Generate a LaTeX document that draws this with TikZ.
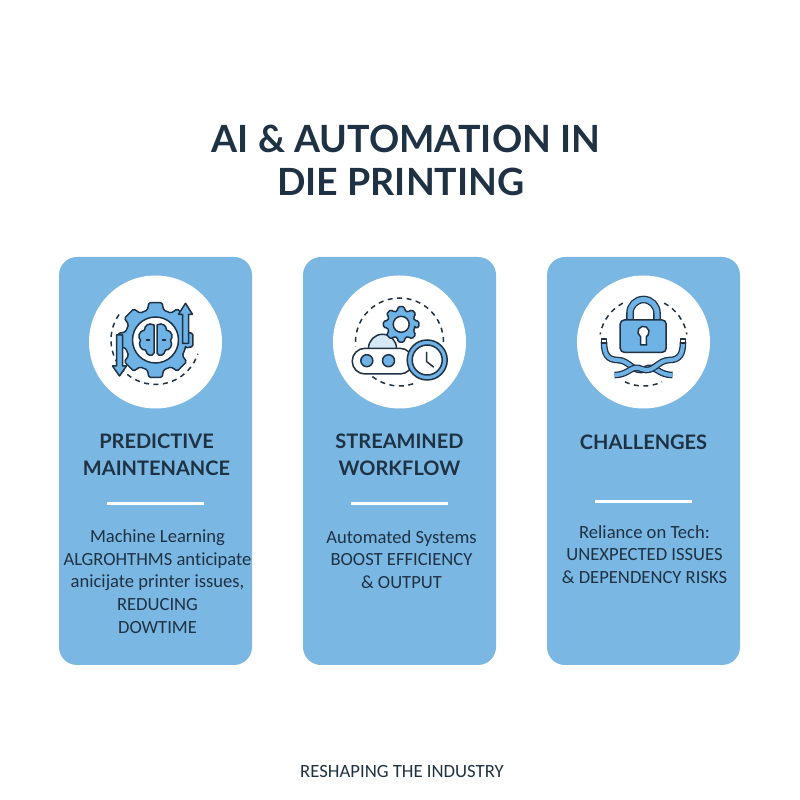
\documentclass[tikz,border=0pt]{standalone}
\usepackage{fontspec}
\setmainfont[Ligatures=NoCommon]{Carlito}
\newfontfamily\titlefont{Lato}
\usetikzlibrary{shapes}

\definecolor{inkdark}{HTML}{1F3244}
\definecolor{cardblue}{HTML}{7AB8E3}
\definecolor{iconblue}{HTML}{6FB3E6}
\definecolor{iconpale}{HTML}{D5E8F6}

\newcommand{\cogwheel}[3]{% centre, root radius, tip radius
	\draw[iconline,fill=iconblue,rounded corners=1.5pt,shift={(#1)}] (-15:#2)
	\foreach \a in {0,45,...,315} { -- (\a-15:#2) -- (\a-10:#3) -- (\a+10:#3) -- (\a+15:#2) } -- cycle;
}

\begin{document}
\begin{tikzpicture}[x=1pt,y=1pt,
		card/.style={fill=cardblue,rounded corners=18pt,minimum width=193pt,minimum height=408pt,inner sep=0pt},
		badge/.style={circle,fill=white,minimum size=133pt,inner sep=0pt},
		heading/.style={align=center,text=inkdark,font=\titlefont\bfseries\fontsize{20}{26.5}\selectfont,inner sep=0pt},
		divider/.style={fill=white,minimum width=97pt,minimum height=3pt,inner sep=0pt},
		bodytext/.style={align=center,text=inkdark,font=\fontsize{18.6}{22.8}\selectfont,inner sep=0pt},
		iconline/.style={draw=inkdark,line width=1.5pt,line join=round},
		dashring/.style={draw=inkdark,line width=1.5pt,dash pattern=on 5pt off 4.5pt},
		cable/.style={draw=inkdark,line width=1.3pt,double=iconblue,double distance=4pt}]
		
		\useasboundingbox (0,0) rectangle (800,800);
		
		\node[align=center,text=inkdark,font=\titlefont\bfseries\fontsize{37.5}{43}\selectfont,inner sep=0pt] (Title) at (406,640) {AI \& AUTOMATION IN\\DIE PRINTING\hspace*{10pt}};
		
		\node[card] (C1) at (155.5,339) {};
		\node[card] (C2) [right of=C1, node distance=244pt] {};
		\node[card] (C3) [right of=C2, node distance=244pt] {};
		
		\node[badge] (B1) [above of=C1, node distance=119pt] {};
		\node[badge] (B2) [above of=C2, node distance=119pt] {};
		\node[badge] (B3) [above of=C3, node distance=119pt] {};
		
		\node[heading,xshift=1pt] (H1) [below of=B1, node distance=113pt] {PREDICTIVE\\MAINTENANCE};
		\node[heading] (H2) [below of=B2, node distance=113pt] {STREAMINED\\WORKFLOW};
		\node[heading] (H3) [below of=B3, node distance=100pt] {CHALLENGES};
		
		\node[divider] (D1) [below of=B1, node distance=162pt] {};
		\node[divider] (D2) [below of=B2, node distance=162pt] {};
		\node[divider] (D3) [below of=B3, node distance=160pt] {};
		
		\node[bodytext,xshift=2pt] (T1) [below of=B1, node distance=239.5pt] {Machine Learning\\ALGROHTHMS anticipate\\anicijate printer issues,\\REDUCING\\DOWTIME};
		\node[bodytext,xshift=2pt] (T2) [below of=B2, node distance=217.5pt] {Automated Systems\\BOOST EFFICIENCY\\\& OUTPUT};
		\node[bodytext,xshift=1pt] (T3) [below of=B3, node distance=212.5pt] {Reliance on Tech:\\UNEXPECTED ISSUES\\\& DEPENDENCY RISKS};
		
		\node[text=inkdark,font=\fontsize{18.7}{20}\selectfont,inner sep=0pt] (Foot) at (402,28) {RESHAPING THE INDUSTRY};
		
		% gear and brain
		\begin{scope}[shift={(B1)},yshift=2pt]
			\draw[dashring] (145:44.5) arc (145:342:44.5);
			\cogwheel{0,0}{31}{38}
			\draw[iconline,fill=white] (0,0) circle (23);
			\draw[iconline,fill=iconblue] (-1.5,15) .. controls (-7,18) and (-11,14) .. (-11,10)
			.. controls (-17,9) and (-18,2) .. (-15,0) .. controls (-18,-5) and (-14,-11) .. (-10,-10)
			.. controls (-9,-16) and (-3,-17) .. (-1.5,-13) -- cycle;
			\draw[iconline,fill=iconblue] (1.5,15) .. controls (7,18) and (11,14) .. (11,10)
			.. controls (17,9) and (18,2) .. (15,0) .. controls (18,-5) and (14,-11) .. (10,-10)
			.. controls (9,-16) and (3,-17) .. (1.5,-13) -- cycle;
			\draw[iconline] (-10,0) -- (-6,0) (6,0) -- (10,0);
			\draw[iconline,fill=iconblue] (30,36.7) -- (37,25.7) -- (33,25.7) -- (33,-3.3) -- (27,-3.3) -- (27,25.7) -- (23,25.7) -- cycle;
			\draw[iconline,fill=iconblue] (-36,-36) -- (-43,-26) -- (-39,-26) -- (-39,5) -- (-33,5) -- (-33,-26) -- (-29,-26) -- cycle;
		\end{scope}
		
		% conveyor, gear and clock
		\begin{scope}[shift={(B2)}]
			\draw[dashring] (0:44) arc (0:186:44);
			\draw[dashring] (232:44) arc (232:290:44);
			\draw[iconline,fill=iconpale] (-31,-6.3) arc (180:0:14);
			\cogwheel{1.7,17.7}{14}{18}
			\draw[iconline,fill=white] (1.7,17.7) circle (8);
			\draw[iconline,fill=white,rounded corners=12.8pt] (-47.3,-32) rectangle (13.3,-6.3);
			\draw[iconline,fill=iconblue] (-32.7,-18.7) circle (6);
			\draw[iconline,fill=iconblue] (-11,-18.7) circle (6);
			\draw[iconline,fill=iconblue] (27.7,-18) circle (20);
			\draw[iconline,fill=white] (27.7,-18) circle (15);
			\draw[iconline,line cap=round] (27,-10.5) -- (27,-19.5) -- (34,-25);
		\end{scope}
		
		% padlock and cables
		\begin{scope}[shift={(B3)}]
			\draw[dashring] (118:44) arc (118:170:44);
			\draw[dashring] (62:44) arc (62:10:44);
			\draw[dashring] (245:44) arc (245:295:44);
			\draw[cable,double distance=5pt] (-13.5,22) -- (-13.5,29) arc (180:0:13.5) -- (13.5,22);
			\draw[iconline,fill=iconblue,rounded corners=4pt] (-23.3,-10.3) rectangle (22.7,22);
			\draw[iconline,fill=white] (-3,-3) -- (-3,5.4) arc (-122:-418:5.6) -- (3,-3) -- cycle;
			\draw[cable] (-39.5,0) .. controls (-39.5,-12) and (-36,-18) .. (-26,-18) .. controls (-14,-18) and (-10,-32) .. (2,-27) .. controls (12,-22) and (14,-33) .. (29,-33);
			\draw[cable] (39.5,0) .. controls (39.5,-12) and (36,-18) .. (26,-18) .. controls (14,-18) and (10,-32) .. (-2,-27) .. controls (-12,-22) and (-14,-33) .. (-29,-33);
			\draw[iconline,fill=white] (-42,-1) rectangle (-37,3);
			\draw[iconline,fill=white] (37,-1) rectangle (42,3);
		\end{scope}
	\end{tikzpicture}
\end{document}
